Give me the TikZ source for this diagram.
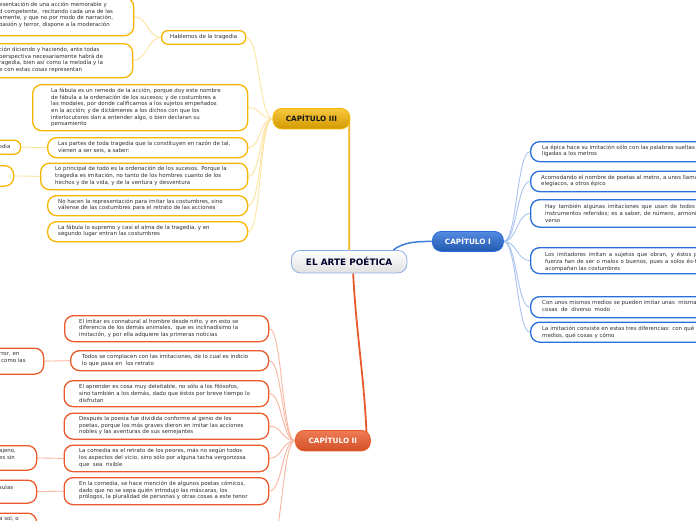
\documentclass[tikz,border=0pt]{standalone}
\usepackage{fontspec}
\newfontfamily\dv{DejaVu Sans}
\newcommand\bodyfont{\dv\fontsize{5.45}{6.7}\selectfont}
\newcommand\capfont{\dv\bfseries\fontsize{7.3}{8.5}\selectfont}
\newcommand\ctrfont{\dv\bfseries\fontsize{8.9}{10}\selectfont}
\definecolor{txtc}{HTML}{2E2E2E}
\definecolor{yelB}{HTML}{F7B500}
\definecolor{yelL}{HTML}{FDE3A0}
\definecolor{yelM}{HTML}{F6B51C}
\definecolor{bluB}{HTML}{2A6FDA}
\definecolor{bluL}{HTML}{A9C3EF}
\definecolor{bluM}{HTML}{3D7BD8}
\definecolor{redB}{HTML}{EA5A2A}
\definecolor{redL}{HTML}{F8B7A0}
\definecolor{redM}{HTML}{E85A2C}
\pgfdeclarelayer{bg}
\pgfsetlayers{bg,main}
\tikzset{
  box/.style={rounded corners=9pt, line width=1.3pt, fill=white, inner sep=0pt, anchor=north west},
  ybox/.style={box, draw=yelB},
  bbox/.style={box, draw=bluB},
  rbox/.style={box, draw=redB},
  txt/.style={font=\bodyfont, text=txtc, align=left, inner sep=0pt, anchor=west},
  ycon/.style={draw=yelL, line width=0.9pt},
  bcon/.style={draw=bluL, line width=0.9pt},
  rcon/.style={draw=redL, line width=0.9pt},
  capbox/.style={rounded corners=9pt, line width=0.8pt, inner sep=0pt, anchor=north west, font=\capfont},
}
\newcommand\bx[7][]{\node[#2, minimum width=#6pt, minimum height=#7pt, #1] (#3) at (#4,#5) {};}
\begin{document}
\begin{tikzpicture}[x=1pt,y=-1pt]
\useasboundingbox (0,0) rectangle (696,520);

% central and chapter nodes
\node[capbox, font=\ctrfont, top color=white, bottom color=black!12!white, draw=bluM!60!white, text=black!70!blue!60!black,
      minimum width=115.5pt, minimum height=22.5pt] (ctr) at (291,250) {EL ARTE POÉTICA};
\node[capbox, top color=white!25!yelB, bottom color=yelB!85!black, draw=yelB, text=black!90,
      minimum width=77pt, minimum height=20.5pt] (cap3) at (272.5,108) {CAPÍTULO III};
\node[capbox, top color=bluB!80!white, bottom color=bluB!80!black, draw=bluB, text=white,
      minimum width=71pt, minimum height=20pt] (cap1) at (432,231) {CAPÍTULO I};
\node[capbox, top color=redB!80!white, bottom color=redB!90!black, draw=redB, text=white,
      minimum width=75pt, minimum height=20.5pt] (cap2) at (295,430) {CAPÍTULO II};

% CAPITULO III branch
\node[ybox, rounded corners=6pt, minimum width=84pt, minimum height=13.5pt, font=\bodyfont, text=txtc] (hab) at (161,30) {Hablemos de la tragedia};
\bx{ybox}{ta}{-60}{-3}{193}{38}
\bx{ybox}{tb}{-60}{43}{192}{34}
\bx{ybox}{fab}{32}{84}{215}{46}
\bx{ybox}{par}{47}{137}{200}{20}
\bx[rounded corners=6.5pt]{ybox}{odia}{-40}{139.5}{60}{14}
\bx{ybox}{lop}{40}{162.5}{207}{26.5}
\bx{ybox}{emp}{-40}{165}{53}{20.5}
\bx{ybox}{noh}{47}{195}{200}{20}
\bx{ybox}{lfs}{47}{221}{200}{20}

\node[txt] (tta) at (-1,15) {esentación de una acción memorable y\\d competente,\ \ recitando cada una de las\\amente, y que no por modo de narración,\\pasión y terror, dispone a la moderación};
\node[txt] (ttb) at (-1,60) {ción diciendo y haciendo, ante todas\\perspectiva necesariamente habrá de\\ragedia, bien así como la melodía y la\\e con estas cosas representan};
\node[txt] (tfab) at (51,107.5) {La fábula es un remedo de la acción, porque doy este nombre\\de fábula a la ordenación de los sucesos; y de costumbres a\\las modales, por donde calificamos a los sujetos empeñados\\en la acción; y de dictámenes a los dichos con que los\\interlocutores dan a entender algo, o bien declaran su\\pensamiento};
\node[txt] (tpar) at (58,147) {Las partes de toda tragedia que la constituyen en razón de tal,\\vienen a ser seis, a saber:};
\node[txt] (todia) at (-1.5,146.5) {odia};
\node[txt] (tlop) at (55,176) {Lo principal de todo es la ordenación de los sucesos. Porque la\\tragedia es imitación, no tanto de los hombres cuanto de los\\hechos y de la vida, y de la ventura y desventura};
\node[txt] (tnoh) at (58,205) {No hacen la representación para imitar las costumbres, sino\\válense de las costumbres para el retrato de las acciones};
\node[txt] (tlfs) at (58,231) {La fábula lo supremo y casi el alma de la tragedia, y en\\segundo lugar entran las costumbres};

% CAPITULO I branch
\bx{bbox}{e1}{530}{141}{200}{20}
\bx{bbox}{e2}{530}{170.5}{200}{20.5}
\bx{bbox}{e3}{530}{199}{200}{27.5}
\bx{bbox}{e4}{530}{247}{200}{26}
\bx{bbox}{e5}{530}{296}{200}{21}
\bx{bbox}{e6}{530}{321.5}{200}{20}

\node[txt] (te1) at (542,151) {La épica hace su imitación sólo con las palabras sueltas o\\ligadas a los metros};
\node[txt] (te2) at (541,181) {Acomodando el nombre de poetas al metro, a unos llaman\\elegíacos, a otros épico};
\node[txt, align=justify, text width=160pt] (te3) at (545,213.4) {Hay también algunas imitaciones que usan de todos los\linebreak instrumentos referidos; es a saber, de número, armonía y\linebreak verso};
\node[txt, align=justify, text width=158pt] (te4) at (545,261.7) {Los imitadores imitan a sujetos que obran, y éstos por\linebreak fuerza han de ser o malos o buenos, pues a solos és-tos\linebreak acompañan las costumbres};
\node[txt] (te5) at (542,306) {Con unos mismos medios se pueden imitar unas\ \ mismas\\cosas\ \ de\ \ diverso\ \ modo};
\node[txt] (te6) at (542,332.2) {La imitación consiste en estas tres diferencias: con qué\\medios, qué cosas y cómo};

% CAPITULO II branch
\bx{rbox}{r1}{64}{315}{204}{26}
\bx{rbox}{r2}{70}{350}{198}{20}
\bx{rbox}{r2l}{-40}{347.5}{83}{26}
\bx{rbox}{r3}{63.5}{380}{204.5}{26}
\bx{rbox}{r4}{63.5}{412.5}{204.5}{26}
\bx{rbox}{r5}{63.5}{444.5}{204.5}{26.5}
\bx{rbox}{r5l}{-40}{445}{76}{24.5}
\bx{rbox}{r6}{63.5}{477}{204.5}{27}
\bx{rbox}{r6l}{-40}{479.5}{76}{23}
\bx{rbox}{r7l}{-40}{512.5}{76}{22}
\coordinate (r8) at (269,550);

\node[txt] (tr1) at (79,328.3) {El imitar es connatural al hombre desde niño, y en esto se\\diferencia de los demás animales,\ \ que es inclinadísimo la\\imitación, y por ella adquiere las primeras noticias};
\node[txt] (tr2) at (82,360.8) {Todos se complacen con las imitaciones, de lo cual es indicio\\lo que pasa en\ \ los retrato};
\node[txt] (tr2l) at (-1,357.5) {rror, en\\\hspace*{2pt}como las};
\node[txt] (tr3) at (79,393.5) {El aprender es cosa muy deleitable, no sólo a los filósofos,\\sino también a los demás, dado que éstos por breve tiempo lo\\disfrutan};
\node[txt] (tr4) at (79,425.5) {Después la poesía fue dividida conforme al genio de los\\poetas, porque los más graves dieron en imitar las acciones\\nobles y las aventuras de sus semejantes};
\node[txt] (tr5) at (79,457.8) {La comedia es el retrato de los peores, más no según todos\\los aspectos del vicio, sino sólo por alguna tacha vergonzosa\\que\ \ sea\ \ risible};
\node[txt] (tr5l) at (-1,454.2) {ajeno,\\es sin};
\node[txt] (tr6) at (79,490.5) {En la comedia, se hace mención de algunos poetas cómicos,\\dado que no se sepa quién introdujo las máscaras, los\\prólogos, la pluralidad de personas y otras cosas a este tenor};
\node[txt] (tr6l) at (-1,487.5) {sulas};
\node[txt] (tr7l) at (-1,518.5) {a sol, o};

% connectors
\begin{pgfonlayer}{bg}
\fill[white] (0,0) rectangle (696,520);
\draw[draw=yelM, line width=1.8pt] (ctr.north) -- ([xshift=-1pt]cap3.east);
\draw[draw=bluM, line width=1.5pt] ([xshift=-14pt]ctr.north east) .. controls +(10,-8) and +(-15,0) .. (cap1.west);
\draw[draw=redM, line width=1.8pt] ([xshift=4pt]ctr.south) .. controls +(3,60) and +(-2,-60) .. ([xshift=-4pt]cap2.east);

\foreach \n in {hab,fab,par,lop,noh,lfs}
  \draw[ycon] (cap3.west) .. controls +(-13,0) and +(13,0) .. (\n.east);
\draw[ycon] (hab.west) .. controls +(-13,0) and +(13,0) .. (ta.east);
\draw[ycon] (hab.west) .. controls +(-13,0) and +(13,0) .. (tb.east);
\draw[ycon] (odia.east) -- (par.west);
\draw[ycon] (emp.east) -- (lop.west);

\foreach \n in {e1,e2,e3,e4,e5,e6}
  \draw[bcon] (cap1.east) .. controls +(13,0) and +(-13,0) .. (\n.west);

\foreach \n in {r1,r2,r3,r4,r5,r6}
  \draw[rcon] (cap2.west) .. controls +(-13,0) and +(13,0) .. (\n.east);
\draw[rcon] (cap2.west) .. controls +(-13,0) and +(13,0) .. (r8);
\draw[rcon] (r2l.east) -- (r2.west);
\draw[rcon] (r5l.east) -- (r5.west);
\draw[rcon] (r6l.east) -- (r6.west);
\end{pgfonlayer}
\end{tikzpicture}
\end{document}
